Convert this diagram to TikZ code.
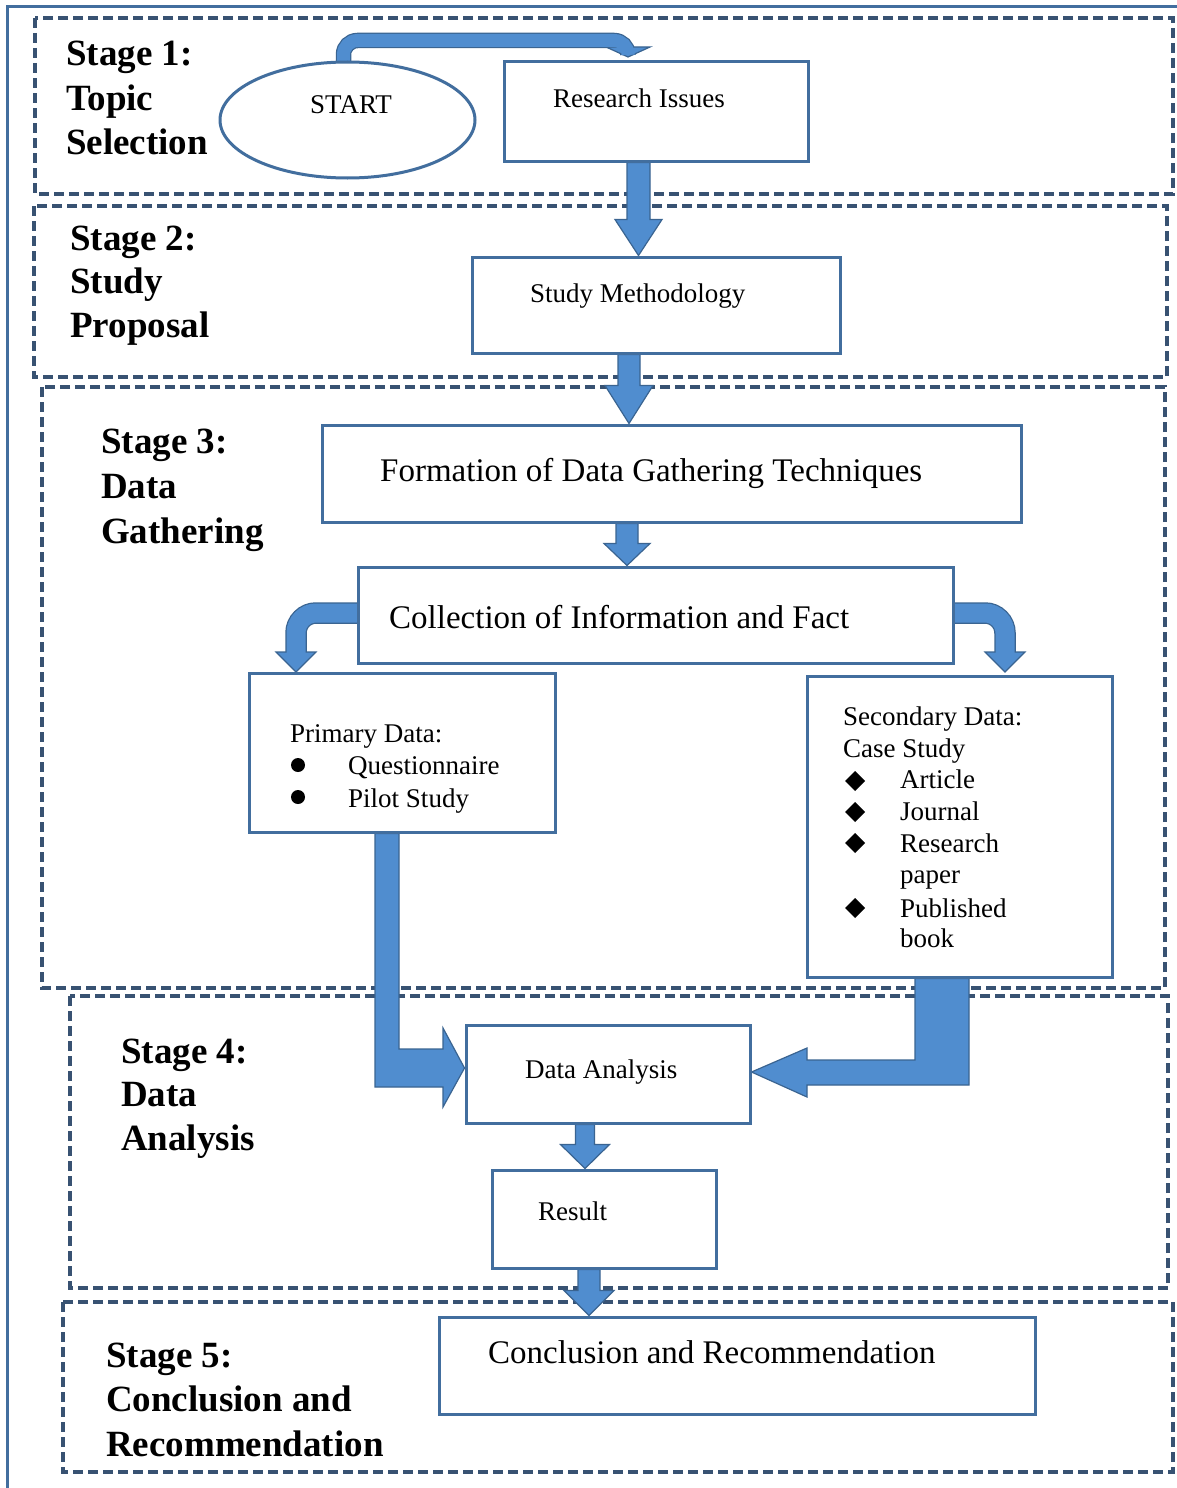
\documentclass[tikz,border=0pt]{standalone}
\usepackage{fontspec}
\setmainfont{Liberation Serif}
\usetikzlibrary{calc,shapes.geometric}
\definecolor{boxc}{RGB}{66,110,158}
\definecolor{dashc}{RGB}{56,82,114}
\definecolor{arrf}{RGB}{80,141,207}
\definecolor{arrd}{RGB}{58,100,145}
\pgfdeclarelayer{back}
\pgfdeclarelayer{mid}
\pgfsetlayers{back,mid,main}
\tikzset{
  box/.style={draw=boxc, fill=white, line width=3pt, rectangle, inner sep=0pt},
  dbox/.style={draw=dashc, line width=3.2pt, dash pattern=on 10pt off 5pt},
  arrow/.style={fill=arrf, draw=arrd, line width=1.2pt, line join=miter},
  stg/.style={font=\fontsize{37}{44}\selectfont\bfseries, anchor=base west, inner sep=0pt},
  txt/.style={font=\fontsize{27}{31}\selectfont, anchor=base west, inner sep=0pt},
  btxt/.style={font=\fontsize{33}{38}\selectfont, anchor=base west, inner sep=0pt},
}
\newcommand\blkdown[5]{%
  \filldraw[arrow] let \p1=(#1), \p2=(#2) in
   (\x1-#3pt,\y1) -- (\x1+#3pt,\y1) -- (\x1+#3pt,\y2+#5pt) -- (\x1+#4pt,\y2+#5pt)
   -- (\x1,\y2) -- (\x1-#4pt,\y2+#5pt) -- (\x1-#3pt,\y2+#5pt) -- cycle;}
\begin{document}
\begin{tikzpicture}[x=1pt,y=-1pt]
\useasboundingbox (0,0) rectangle (1176,1488);
\clip (0,0) rectangle (1176,1488);
\begin{pgfonlayer}{back}
\fill[white] (0,0) rectangle (1176,1488);
% outer frame
\draw[boxc, line width=3pt] (7,7) rectangle (1210,1520);
% stage frames
\draw[dbox] (35,18) rectangle (1173,194);
\draw[dbox] (34,206) rectangle (1167,377);
\draw[dbox] (42,387) rectangle (1165,988);
\draw[dbox] (70,996) rectangle (1168,1288);
\draw[dbox] (63,1302) rectangle (1173,1472);
\end{pgfonlayer}
% stage labels
\node[stg] (s1a) at (66,66) {Stage 1:};
\node[stg] (s1b) at (66,110) {Topic};
\node[stg] (s1c) at (66,154) {Selection};
\node[stg] (s2a) at (70,250) {Stage 2:};
\node[stg] (s2b) at (70,293) {Study};
\node[stg] (s2c) at (70,337) {Proposal};
\node[stg] (s3a) at (101,453) {Stage 3:};
\node[stg] (s3b) at (101,498) {Data};
\node[stg] (s3c) at (101,543) {Gathering};
\node[stg] (s4a) at (121,1063) {Stage 4:};
\node[stg] (s4b) at (121,1106) {Data};
\node[stg] (s4c) at (121,1150) {Analysis};
\node[stg] (s5a) at (106,1367) {Stage 5:};
\node[stg] (s5b) at (106,1411) {Conclusion and};
\node[stg] (s5c) at (106,1456) {Recommendation};
% boxes
\node[box, ellipse, minimum width=255pt, minimum height=116pt] (st) at (347.5,120) {};
\node[box, minimum width=304pt, minimum height=99pt] (ri) at (656,111.5) {};
\node[box, minimum width=368pt, minimum height=96pt] (sm) at (656,305) {};
\node[box, minimum width=699pt, minimum height=97pt] (fg) at (671.5,473.5) {};
\node[box, minimum width=595pt, minimum height=96pt] (ci) at (655.5,615) {};
\node[box, minimum width=306pt, minimum height=159pt] (pd) at (402,752.5) {};
\node[box, minimum width=305pt, minimum height=301pt] (sd) at (959.5,826.5) {};
\node[box, minimum width=284pt, minimum height=98pt] (da) at (608,1074) {};
\node[box, minimum width=224pt, minimum height=98pt] (rs) at (604,1219) {};
\node[box, minimum width=596pt, minimum height=97pt] (cr) at (737,1365.5) {};
% ---- arrows (behind the boxes) ----
\begin{pgfonlayer}{mid}
% START -> Research Issues (bent)
\draw[arrd, line width=15.5pt, rounded corners=14pt] (st.center |- st.north) ++(-4,15) -- (343.5,40.5) -- (628,40.5) -- (628,49);
\filldraw[arrow] (606,47) -- (650,47) -- (628,57) -- cycle;
\draw[arrf, line width=13pt, rounded corners=14pt] (st.center |- st.north) ++(-4,15) -- (343.5,40.5) -- (628,40.5) -- (628,49);
% straight down arrows
\blkdown{638.5,0 |- ri.south}{638.5,0 |- sm.north}{11.5}{23.5}{36}
\blkdown{629,0 |- sm.south}{629,0 |- fg.north}{11}{24}{38}
\blkdown{627,0 |- fg.south}{627,0 |- ci.north}{11}{23}{22}
\blkdown{585,0 |- da.south}{585,0 |- rs.north}{9.5}{24.5}{24}
\blkdown{589,0 |- rs.south}{589,0 |- cr.north}{11}{25}{25}
% Collection -> Primary (bent left)
\draw[arrd, line width=21.5pt, rounded corners=20pt] ($(ci.west |- 0,613)+(4,0)$) -- (296,613) -- (296,654);
\filldraw[arrow] (276,652) -- (316,652) -- (296,672) -- cycle;
\draw[arrf, line width=19pt, rounded corners=20pt] ($(ci.west |- 0,613)+(4,0)$) -- (296,613) -- (296,654);
% Collection -> Secondary (bent right)
\draw[arrd, line width=21.5pt, rounded corners=20pt] ($(ci.east |- 0,613)+(-4,0)$) -- (1005,613) -- (1005,654);
\filldraw[arrow] (985,652) -- (1025,652) -- (1005,672) -- cycle;
\draw[arrf, line width=19pt, rounded corners=20pt] ($(ci.east |- 0,613)+(-4,0)$) -- (1005,613) -- (1005,654);
% Primary -> Data Analysis
\filldraw[arrow] (375,0 |- pd.south) -- (399,0 |- pd.south) -- (399,1049) -- (443,1049) -- (443,1028)
  -- (da.west |- 0,1068) -- (443,1107) -- (443,1087) -- (375,1087) -- cycle;
% Secondary -> Data Analysis
\filldraw[arrow] (915,0 |- sd.south) -- (969,0 |- sd.south) -- (969,1085) -- (807,1085) -- (807,1097)
  -- (da.east |- 0,1072) -- (807,1048) -- (807,1060) -- (915,1060) -- cycle;
\end{pgfonlayer}
% texts
\node[txt] (tst) at (310,113) {START};
\node[txt] (tri) at (553,107) {Research Issues};
\node[txt] (tsm) at (530,302) {Study Methodology};
\node[btxt] (tfg) at (380,481) {Formation of Data Gathering Techniques};
\node[btxt] (tci) at (389,628) {Collection of Information and Fact};
\node[txt] (tpd1) at (290,742) {Primary Data:};
\node[txt] (tpd2) at (348,774) {Questionnaire};
\node[txt] (tpd3) at (348,807) {Pilot Study};
\fill (298,765) circle (7);
\fill (298,797) circle (7);
\node[txt] (tsd1) at (843,725) {Secondary Data:};
\node[txt] (tsd2) at (843,757) {Case Study};
\node[txt] (tsd3) at (900,788) {Article};
\node[txt] (tsd4) at (900,820) {Journal};
\node[txt] (tsd5) at (900,852) {Research};
\node[txt] (tsd6) at (900,883) {paper};
\node[txt] (tsd7) at (900,917) {Published};
\node[txt] (tsd8) at (900,947) {book};
\foreach \yy in {781,812,843,908} \fill (845,\yy) -- (855,\yy-10) -- (865,\yy) -- (855,\yy+10) -- cycle;
\node[txt] (tda) at (525,1078) {Data Analysis};
\node[txt] (trs) at (538,1220) {Result};
\node[btxt] (tcr) at (488,1363) {Conclusion and Recommendation};
\end{tikzpicture}
\end{document}
